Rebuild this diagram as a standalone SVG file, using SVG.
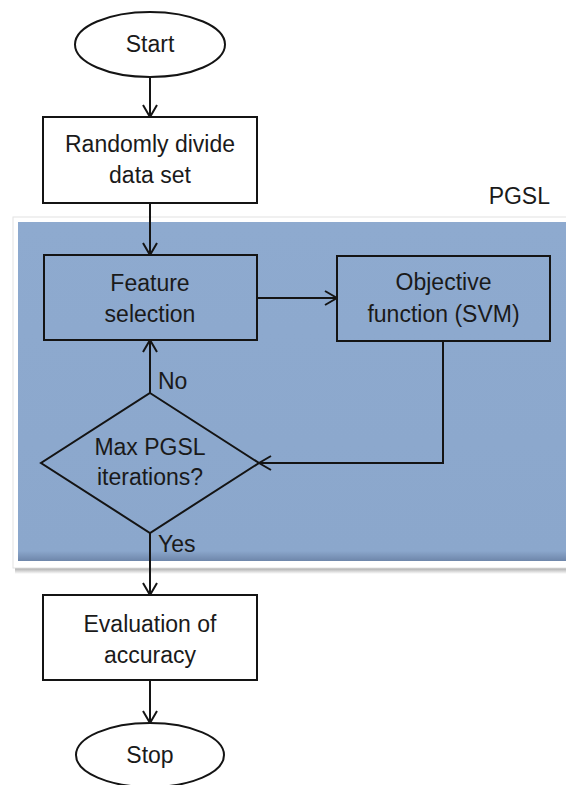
<svg xmlns="http://www.w3.org/2000/svg" width="566" height="785" viewBox="0 0 566 785">
  <style>
    .shape { stroke: #141414; stroke-width: 2; }
    .box { fill: #ffffff; }
    .inner { fill: #8eaacf; }
    .lbl { font-family: "Liberation Sans", Arial, sans-serif; font-size: 23px; fill: #1a1a1a; text-anchor: middle; }
    .tag { font-family: "Liberation Sans", Arial, sans-serif; font-size: 23px; fill: #1a1a1a; }
    .wire { fill: none; stroke: #141414; stroke-width: 2; }
  </style>
  <defs>
    <marker id="arrow" viewBox="0 0 14 16" refX="13" refY="8" markerWidth="14" markerHeight="16" markerUnits="userSpaceOnUse" orient="auto">
      <path d="M1,1 L13,8 L1,15" fill="none" stroke="#141414" stroke-width="2"/>
    </marker>
    <linearGradient id="panelShade" x1="0" y1="0" x2="0" y2="1">
      <stop offset="0" stop-color="#8eaacf"/>
      <stop offset="0.97" stop-color="#8ba7cc"/>
      <stop offset="1" stop-color="#6e86aa"/>
    </linearGradient>
    <linearGradient id="dropShadow" x1="0" y1="0" x2="0" y2="1">
      <stop offset="0" stop-color="#a8a8a8"/>
      <stop offset="1" stop-color="#ffffff"/>
    </linearGradient>
  </defs>

  <!-- PGSL container -->
  <g id="pgsl">
    <rect x="15" y="568" width="551" height="6" fill="url(#dropShadow)"/>
    <rect x="13" y="217" width="560" height="351" fill="#ffffff" stroke="#e2e2e2" stroke-width="1"/>
    <rect x="18" y="222" width="552" height="339" fill="url(#panelShade)"/>
    <text class="tag" x="550" y="204" text-anchor="end">PGSL</text>
  </g>

  <!-- connectors -->
  <g id="connectors">
    <line class="wire" x1="150" y1="77" x2="150" y2="117" marker-end="url(#arrow)"/>
    <line class="wire" x1="150" y1="203" x2="150" y2="255" marker-end="url(#arrow)"/>
    <line class="wire" x1="257" y1="298" x2="337" y2="298" marker-end="url(#arrow)"/>
    <polyline class="wire" points="443,341 443,463 259,463" marker-end="url(#arrow)"/>
    <line class="wire" x1="150" y1="393" x2="150" y2="340" marker-end="url(#arrow)"/>
    <line class="wire" x1="150" y1="533" x2="150" y2="595" marker-end="url(#arrow)"/>
    <line class="wire" x1="150" y1="680" x2="150" y2="723" marker-end="url(#arrow)"/>
    <text class="tag" x="158" y="389">No</text>
    <text class="tag" x="158" y="552">Yes</text>
  </g>

  <g id="start">
    <ellipse class="shape box" cx="150" cy="44.5" rx="75" ry="32.5"/>
    <text class="lbl" x="150" y="52">Start</text>
  </g>

  <g id="divide">
    <rect class="shape box" x="43" y="117" width="214" height="86"/>
    <text class="lbl" x="150" y="152">Randomly divide</text>
    <text class="lbl" x="150" y="183">data set</text>
  </g>

  <g id="feature">
    <rect class="shape" fill="none" x="44" y="255" width="213" height="85"/>
    <text class="lbl" x="150" y="291">Feature</text>
    <text class="lbl" x="150" y="322">selection</text>
  </g>

  <g id="objective">
    <rect class="shape" fill="none" x="337" y="256" width="213" height="85"/>
    <text class="lbl" x="443.5" y="290">Objective</text>
    <text class="lbl" x="443.5" y="322">function (SVM)</text>
  </g>

  <g id="decision">
    <polygon class="shape" fill="none" points="150,393 259,463 150,533 41,463"/>
    <text class="lbl" x="150" y="455">Max PGSL</text>
    <text class="lbl" x="150" y="485">iterations?</text>
  </g>

  <g id="evaluation">
    <rect class="shape box" x="43" y="595" width="214" height="85"/>
    <text class="lbl" x="150" y="632">Evaluation of</text>
    <text class="lbl" x="150" y="663">accuracy</text>
  </g>

  <g id="stop">
    <ellipse class="shape box" cx="150" cy="755" rx="74" ry="32"/>
    <text class="lbl" x="150" y="763">Stop</text>
  </g>
</svg>
